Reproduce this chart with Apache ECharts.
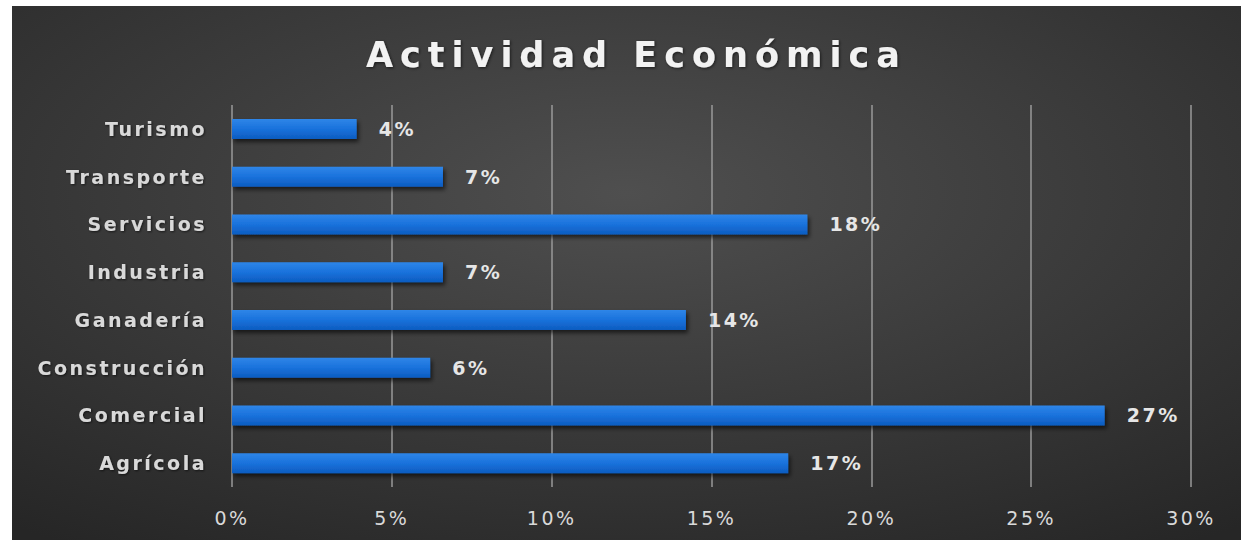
<!DOCTYPE html>
<html>
<head>
<meta charset="utf-8">
<script src="https://cdn.jsdelivr.net/npm/echarts@6/dist/echarts.min.js"></script>
<style>
html,body{margin:0;padding:0;background:#fff;width:1241px;height:540px;overflow:hidden;}
#chart{position:absolute;left:12px;top:6px;width:1229px;height:534px;}
#chart svg text{letter-spacing:2.5px;}
#chart svg text[style*="35px"]{letter-spacing:7px;}
</style>
</head>
<body>
<div id="chart"></div>
<script>
const categories = ['Agrícola','Comercial','Construcción','Ganadería','Industria','Servicios','Transporte','Turismo'];
const values = [17.4, 27.3, 6.2, 14.2, 6.6, 18.0, 6.6, 3.9];
const tickValues = [0, 5, 10, 15, 20, 25, 30];
const titleText = 'Actividad Económica';

const chart = echarts.init(document.getElementById('chart'), null, {renderer: 'svg'});
chart.setOption({
  animation: false,
  backgroundColor: {
    type: 'radial', x: 0.5, y: 0.35, r: 0.8,
    colorStops: [{offset: 0, color: '#4f4f4f'}, {offset: 1, color: '#262626'}]
  },
  title: {
    text: titleText,
    left: 354,
    textAlign: 'left',
    top: 26,
    padding: [5, 0, 5, 0],
    textStyle: {color: '#f2f2f2', fontFamily: 'DejaVu Sans', fontWeight: 'bold', fontSize: 35,
      textShadowColor: 'rgba(0,0,0,0.6)', textShadowBlur: 3, textShadowOffsetX: 1, textShadowOffsetY: 1}
  },
  grid: {left: 220, right: 50, top: 99, bottom: 53, containLabel: false},
  xAxis: {
    type: 'value', min: tickValues[0], max: tickValues[tickValues.length - 1], interval: 5,
    axisLine: {show: false}, axisTick: {show: false},
    splitLine: {show: true, lineStyle: {color: '#9a9a9a', width: 1.5}},
    axisLabel: {formatter: v => v + '%', color: '#d9d9d9', fontFamily: 'DejaVu Sans', fontSize: 19, margin: 21}
  },
  yAxis: {
    type: 'category', data: categories,
    axisLine: {show: false}, axisTick: {show: false},
    axisLabel: {color: '#d9d9d9', fontFamily: 'DejaVu Sans', fontWeight: 'bold', fontSize: 19, margin: 25,
      textShadowColor: 'rgba(0,0,0,0.6)', textShadowBlur: 2, textShadowOffsetX: 1, textShadowOffsetY: 1}
  },
  series: [{
    type: 'bar', data: values, barWidth: 20,
    itemStyle: {
      color: {type: 'linear', x: 0, y: 0, x2: 0, y2: 1,
        colorStops: [{offset: 0, color: '#2f86e8'}, {offset: 0.5, color: '#1a72dc'}, {offset: 1, color: '#0d5cc0'}]},
      shadowColor: 'rgba(0,0,0,0.6)', shadowBlur: 4, shadowOffsetX: 2, shadowOffsetY: 3
    },
    label: {show: true, position: 'right', distance: 22, formatter: p => Math.round(p.value) + '%',
      color: '#e6e6e6', fontFamily: 'DejaVu Sans', fontWeight: 'bold', fontSize: 19}
  }]
});
</script>
</body>
</html>
